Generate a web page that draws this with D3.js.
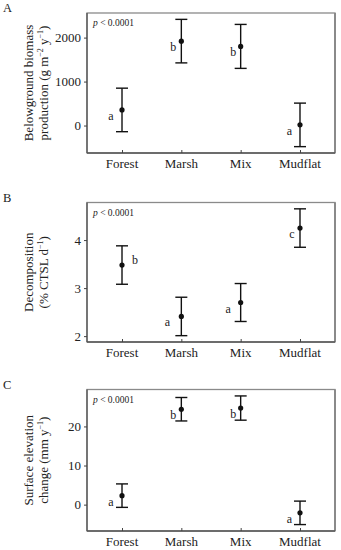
<!DOCTYPE html>
<html>
<head>
<meta charset="utf-8">
<script src="https://cdn.jsdelivr.net/npm/d3@7"></script>
<style>
  body { margin: 0; background: #fff; }
  svg text { font-family: "Liberation Serif", "Times New Roman", serif; fill: #222; }
</style>
</head>
<body>
<div id="plot"></div>
<script>
var categories = ["Forest", "Marsh", "Mix", "Mudflat"];

// panel A: belowground biomass production
var biomassMean = [355, 1920, 1800, 15];
var biomassErr = [495, 495, 500, 495];
var biomassLetters = ["a", "b", "b", "a"];
var biomassTicks = [0, 1000, 2000];

// panel B: decomposition
var decompMean = [3.48, 2.41, 2.70, 4.25];
var decompErr = [0.40, 0.40, 0.395, 0.40];
var decompLetters = ["b", "a", "a", "c"];
var decompTicks = [2, 3, 4];

// panel C: surface elevation change
var elevMean = [2.3, 24.4, 24.7, -2.1];
var elevErr = [3.0, 3.0, 3.1, 3.0];
var elevLetters = ["a", "b", "b", "a"];
var elevTicks = [0, 10, 20];

var pText = "p < 0.0001";

var width = 341, height = 550;
var left = 87, right = 335;
var serif = '"Liberation Serif", "Times New Roman", serif';

var svg = d3.select("#plot").append("svg")
    .attr("width", width)
    .attr("height", height);

var x = d3.scalePoint()
    .domain(categories)
    .range([left, right])
    .padding(0.59);

var panels = [
    { tag: "A", top: 13, bottom: 153, mean: biomassMean, err: biomassErr, letters: biomassLetters, ticks: biomassTicks,
      title: [["Belowground biomass"], ["production (g m", ["\u22122"], " y", ["\u22121"], ")"]],
      letterDx: [-11, -8, -7.5, -10.5], letterDy: [10, 10, 10, 10] },
    { tag: "B", top: 202.5, bottom: 342, mean: decompMean, err: decompErr, letters: decompLetters, ticks: decompTicks,
      title: [["Decomposition"], ["(% CTSL d", ["\u22121"], ")"]],
      letterDx: [13, -14, -12.5, -8], letterDy: [-1, 10, 10, 10] },
    { tag: "C", top: 389.5, bottom: 531, mean: elevMean, err: elevErr, letters: elevLetters, ticks: elevTicks,
      title: [["Surface elevation"], ["change (mm y", ["\u22121"], ")"]],
      letterDx: [-11, -8, -7.5, -10.5], letterDy: [10, 10, 10, 10] }
];

panels.forEach(function(p) {
    var lo = d3.min(p.mean, function(d, i) { return d - p.err[i]; });
    var hi = d3.max(p.mean, function(d, i) { return d + p.err[i]; });
    var pad = (hi - lo) * 0.05;

    var y = d3.scaleLinear()
        .domain([lo - pad, hi + pad])
        .range([p.bottom, p.top]);

    var g = svg.append("g");

    // frame
    g.append("rect")
        .attr("x", left)
        .attr("y", p.top)
        .attr("width", right - left)
        .attr("height", p.bottom - p.top)
        .attr("fill", "none")
        .attr("stroke", "#8a8a8a")
        .attr("stroke-width", 1.3);
    g.append("line")
        .attr("x1", right).attr("x2", right)
        .attr("y1", p.top).attr("y2", p.bottom)
        .attr("stroke", "#8a8a8a")
        .attr("stroke-width", 2);
    g.append("line")
        .attr("x1", left).attr("x2", left)
        .attr("y1", p.top).attr("y2", p.bottom)
        .attr("stroke", "#555")
        .attr("stroke-width", 1.3);
    g.append("line")
        .attr("x1", left).attr("x2", right)
        .attr("y1", p.bottom).attr("y2", p.bottom)
        .attr("stroke", "#555")
        .attr("stroke-width", 1.3);

    // y axis
    var yAxis = d3.axisLeft(y).tickValues(p.ticks).tickSize(3).tickPadding(3).tickFormat(d3.format("d"));
    var ya = g.append("g")
        .attr("transform", "translate(" + left + ",0)")
        .call(yAxis)
        .attr("font-family", serif)
        .attr("font-size", 13);
    ya.select(".domain").remove();
    ya.selectAll("line").attr("stroke", "#444");
    ya.selectAll("text")
        .style("font-family", serif)
        .style("font-size", "13px")
        .attr("fill", "#222");

    // x axis (ticks point inward)
    var xAxis = d3.axisTop(x).tickSize(3).tickFormat("");
    var xa = g.append("g")
        .attr("transform", "translate(0," + p.bottom + ")")
        .call(xAxis);
    xa.select(".domain").remove();
    xa.selectAll("line").attr("stroke", "#444");

    g.selectAll(".cat")
        .data(categories).enter()
        .append("text")
        .attr("class", "cat")
        .attr("x", function(d) { return x(d); })
        .attr("y", p.bottom + 14.5)
        .style("text-anchor", "middle")
        .style("font-family", serif)
        .style("font-size", "13px")
        .text(function(d) { return d; });

    // panel tag
    g.append("text")
        .attr("x", 3)
        .attr("y", p.top - 1)
        .style("font-family", serif)
        .style("font-size", "12.5px")
        .text(p.tag);

    // p value
    var pt = g.append("text")
        .attr("x", left + 6)
        .attr("y", p.top + 13)
        .style("font-family", serif)
        .style("font-size", "9.5px");
    pt.append("tspan").style("font-style", "italic").text(pText.slice(0, 1));
    pt.append("tspan").text(pText.slice(1));

    // y title, superscripts in a smaller size
    var cy = (p.top + p.bottom) / 2;
    p.title.forEach(function(line, li) {
        var t = g.append("text")
            .attr("transform", "translate(" + (33 + li * 14.5) + "," + cy + ") rotate(-90)")
            .style("text-anchor", "middle")
            .style("font-family", serif)
            .style("font-size", "13px");
        var shift = 0;
        line.forEach(function(part) {
            if (Array.isArray(part)) {
                t.append("tspan").attr("dy", -4.5 - shift).style("font-size", "8px").text(part[0]);
                shift = -4.5;
            } else {
                t.append("tspan").attr("dy", -shift).text(part);
                shift = 0;
            }
        });
    });

    // error bars and means
    var pts = g.selectAll(".pt")
        .data(categories).enter()
        .append("g")
        .attr("class", "pt");

    pts.append("line")
        .attr("x1", function(d) { return x(d); })
        .attr("x2", function(d) { return x(d); })
        .attr("y1", function(d, i) { return y(p.mean[i] + p.err[i]); })
        .attr("y2", function(d, i) { return y(p.mean[i] - p.err[i]); })
        .attr("stroke", "#111")
        .attr("stroke-width", 1.4);
    [1, -1].forEach(function(s) {
        pts.append("line")
            .attr("x1", function(d) { return x(d) - 6; })
            .attr("x2", function(d) { return x(d) + 6; })
            .attr("y1", function(d, i) { return y(p.mean[i] + s * p.err[i]); })
            .attr("y2", function(d, i) { return y(p.mean[i] + s * p.err[i]); })
            .attr("stroke", "#111")
            .attr("stroke-width", 1.4);
    });
    pts.append("circle")
        .attr("cx", function(d) { return x(d); })
        .attr("cy", function(d, i) { return y(p.mean[i]); })
        .attr("r", 2.6)
        .attr("fill", "#111");

    pts.append("text")
        .attr("x", function(d, i) { return x(d) + p.letterDx[i]; })
        .attr("y", function(d, i) { return y(p.mean[i]) + p.letterDy[i]; })
        .style("text-anchor", "middle")
        .style("font-family", serif)
        .style("font-size", "12px")
        .text(function(d, i) { return p.letters[i]; });
});
</script>
</body>
</html>
